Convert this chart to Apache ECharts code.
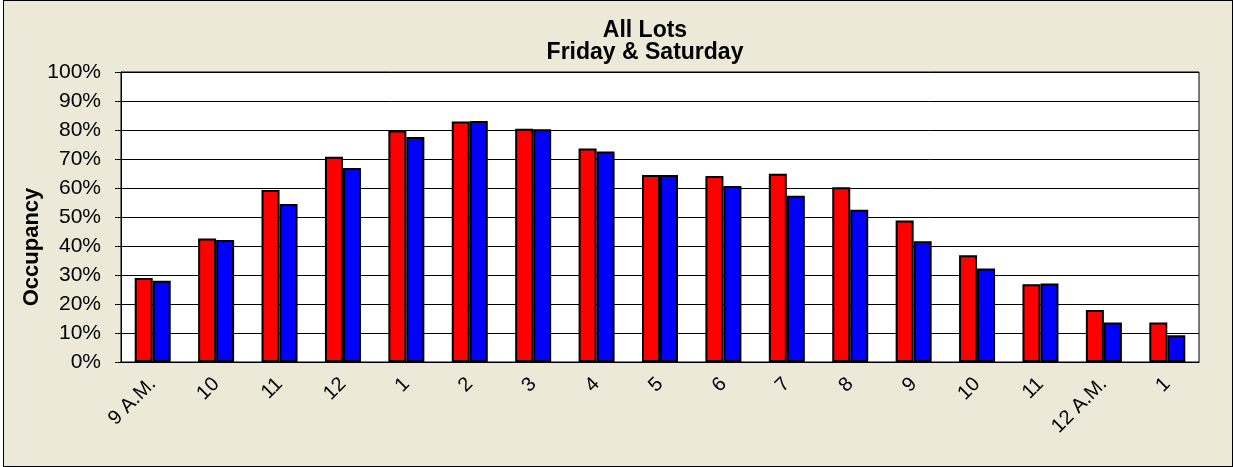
<!DOCTYPE html>
<html>
<head>
<meta charset="utf-8">
<script src="https://cdn.jsdelivr.net/npm/echarts@6/dist/echarts.min.js"></script>
<style>
  html, body { margin: 0; padding: 0; background: #fff; }
  #frame {
    position: absolute; left: 3px; top: 0; width: 1230px; height: 467px;
    box-sizing: border-box; border: 1px solid #000; background: #ece9d8;
  }
  #chart { position: absolute; left: 0; top: 0; width: 1234px; height: 467px; }
</style>
</head>
<body>
<div id="frame"></div>
<div id="chart"></div>
<script>
const hours = ['9 A.M.', '10', '11', '12', '1', '2', '3', '4', '5', '6', '7', '8', '9', '10', '11', '12 A.M.', '1']
const friday = [29.0, 42.6, 59.3, 70.8, 79.8, 82.9, 80.4, 73.6, 64.5, 64.1, 64.9, 60.3, 48.8, 36.8, 26.8, 17.9, 13.6]
const saturday = [28.0, 42.1, 54.5, 66.9, 77.6, 83.1, 80.3, 72.6, 64.5, 60.7, 57.3, 52.5, 41.6, 32.2, 27.1, 13.6, 9.2]
const yTicks = { min: 0, max: 100, interval: 10 }

const font = '"Liberation Sans", Arial, sans-serif'
const chart = echarts.init(document.getElementById('chart'), null, { renderer: 'canvas' })

function barSeries(name, data, color) {
  return {
    name,
    type: 'bar',
    data,
    barWidth: 18,
    barGap: '0%',
    itemStyle: { color, borderColor: '#000', borderWidth: 2 },
    emphasis: { disabled: true }
  }
}

chart.setOption({
  backgroundColor: 'transparent',
  animation: false,
  title: {
    text: 'All Lots\nFriday & Saturday',
    left: 645,
    top: 20,
    padding: 0,
    textAlign: 'center',
    textStyle: { fontFamily: font, fontWeight: 'bold', fontSize: 23, lineHeight: 22, color: '#000' }
  },
  grid: {
    left: 121, top: 72, right: 35, bottom: 105,
    show: true, backgroundColor: '#fff', borderColor: '#000', borderWidth: 1
  },
  xAxis: {
    type: 'category',
    data: hours,
    axisLine: { lineStyle: { color: '#000', width: 1 } },
    axisTick: { length: 6, lineStyle: { color: '#000' } },
    axisLabel: { rotate: 45, margin: 19, fontFamily: font, fontSize: 20, color: '#000', interval: 0 }
  },
  yAxis: {
    type: 'value',
    min: yTicks.min,
    max: yTicks.max,
    interval: yTicks.interval,
    axisLine: { show: true, lineStyle: { color: '#000', width: 1 } },
    axisTick: { show: true, length: 6, lineStyle: { color: '#000' } },
    axisLabel: { formatter: '{value}%', margin: 20, fontFamily: font, fontSize: 21, color: '#000' },
    splitLine: { lineStyle: { color: '#000', width: 1 } }
  },
  graphic: [{
    type: 'text',
    x: 32, y: 247,
    rotation: Math.PI / 2,
    style: {
      text: 'Occupancy', fontFamily: font, fontWeight: 'bold', fontSize: 22,
      fill: '#000', align: 'center', verticalAlign: 'middle'
    }
  }],
  series: [
    barSeries('Friday', friday, '#ff0000'),
    barSeries('Saturday', saturday, '#0000ff')
  ]
})
</script>
</body>
</html>
